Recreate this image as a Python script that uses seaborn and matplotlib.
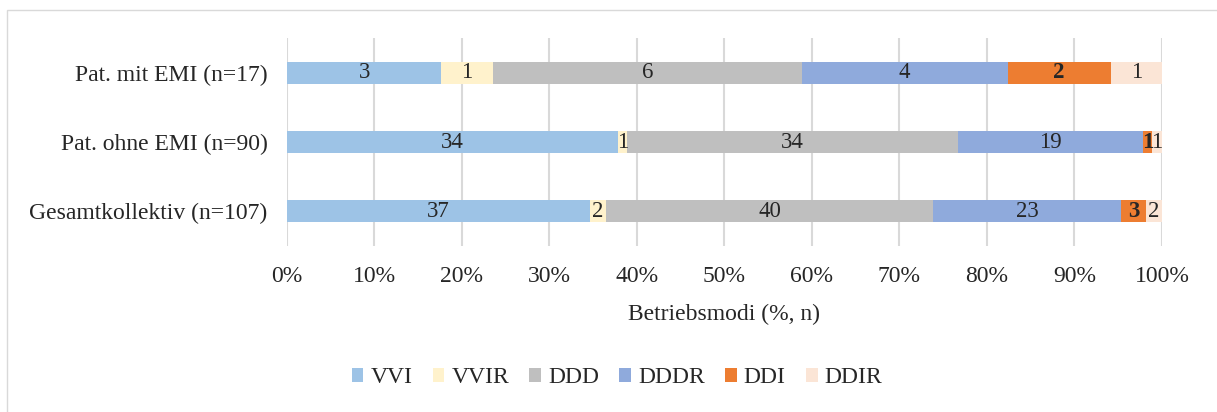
import pandas as pd
import numpy as np
import matplotlib.pyplot as plt
import seaborn as sns
from matplotlib.patches import Rectangle

# data
groups = ['Pat. mit EMI (n=17)', 'Pat. ohne EMI (n=90)', 'Gesamtkollektiv (n=107)']
modes = ['VVI', 'VVIR', 'DDD', 'DDDR', 'DDI', 'DDIR']
vvi = [3, 34, 37]
vvir = [1, 1, 2]
ddd = [6, 34, 40]
dddr = [4, 19, 23]
ddi = [2, 1, 3]
ddir = [1, 1, 2]
colors = ['#9DC3E6', '#FFF2CC', '#BFBFBF', '#8FAADC', '#ED7D31', '#FBE5D6']

counts = pd.DataFrame({'VVI': vvi, 'VVIR': vvir, 'DDD': ddd,
                       'DDDR': dddr, 'DDI': ddi, 'DDIR': ddir}, index=groups)
pct = counts.div(counts.sum(axis=1), axis=0) * 100
cum = pct.cumsum(axis=1)

sns.set_style('white')
plt.rcParams['font.family'] = ['Liberation Serif', 'DejaVu Serif']
fs = 17

fig = plt.figure(figsize=(12.17, 4.12), dpi=100)
ax = fig.add_axes([0.2358, 0.404, 0.719, 0.5026])

# stacked bars: draw cumulative totals from the last segment to the first
for m, c in reversed(list(zip(modes, colors))):
    df = pd.DataFrame({'group': groups, 'value': cum[m].values})
    sns.barplot(data=df, x='value', y='group', orient='h', color=c,
                width=0.32, ax=ax, label=m, saturation=1, linewidth=0, zorder=3)

# labels in the middle of each segment
for i, g in enumerate(groups):
    for m in modes:
        center = cum.loc[g, m] - pct.loc[g, m] / 2
        ax.text(center, i, str(counts.loc[g, m]), ha='center', va='center',
                fontsize=16.5, fontweight='bold' if m == 'DDI' else 'normal',
                zorder=4)

ax.set_xlim(0, 100)
ax.set_ylim(2.5, -0.5)
ax.set_xticks(np.arange(0, 101, 10))
ax.set_xticklabels([f'{t}%' for t in range(0, 101, 10)], fontsize=fs)
ax.tick_params(axis='y', labelsize=fs, length=0, pad=14)
ax.tick_params(axis='x', length=0, pad=15)
ax.grid(axis='x', color='#D9D9D9', linewidth=1.5, zorder=0)
ax.set_axisbelow(True)
sns.despine(ax=ax, left=True, bottom=True)
ax.set_ylabel('')
ax.set_xlabel('Betriebsmodi (%, n)', fontsize=fs, labelpad=12)

handles, labels = ax.get_legend_handles_labels()
order = [labels.index(m) for m in modes]
fig.legend([handles[k] for k in order], modes, loc='center',
           bbox_to_anchor=(0.507, 0.083), ncol=6, frameon=False, fontsize=fs,
           handlelength=0.5, handleheight=0.5, handletextpad=0.3,
           columnspacing=0.85)
if ax.get_legend():
    ax.get_legend().remove()

# thin chart-area border
fig.patches.append(Rectangle((0.006, -0.01), 1.0, 0.985, transform=fig.transFigure,
                             fill=False, edgecolor='#D9D9D9', linewidth=1))

fig.savefig('out.png', dpi=100)
